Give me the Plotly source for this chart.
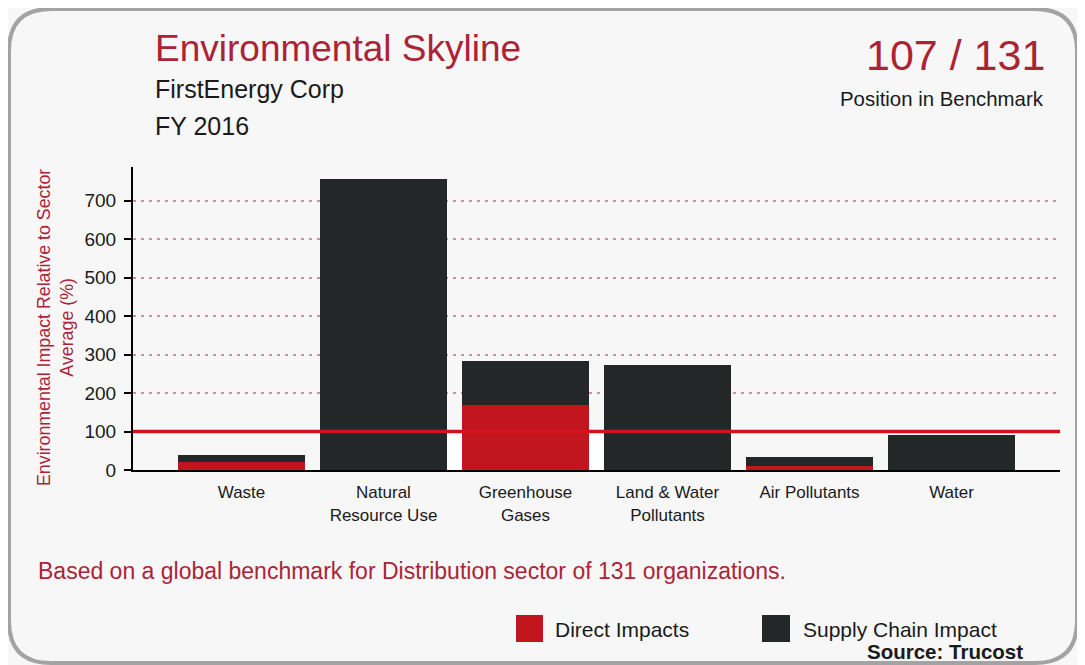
import plotly.graph_objects as go

# ---- data ----
categories = ["Waste", "Natural<br>Resource Use", "Greenhouse<br>Gases",
              "Land & Water<br>Pollutants", "Air Pollutants", "Water"]
direct_impacts = [22, 0, 169, 0, 10, 0]
supply_chain = [17, 756, 115, 273, 23, 91]
y_ticks = [0, 100, 200, 300, 400, 500, 600, 700]
sector_average = 100

RED = "#c1161e"
DARK = "#242727"
TITLE_RED = "#ab2436"
LINE_RED = "#d3121c"
BG = "#f7f7f7"
FONT = "Liberation Sans, Arial, sans-serif"

PAGE_W, PAGE_H = 1085, 665
OFF = 8                       # default body margin of the html page
W, H = PAGE_W - OFF, PAGE_H - OFF
L, R, T, B = 133, 1060, 167, 470   # plot area in page pixels


def px(xp):
    return (xp - L) / (R - L)


def py(yp):
    return (B - yp) / (B - T)


fig = go.Figure()
fig.add_trace(go.Bar(x=categories, y=direct_impacts, name="Direct Impacts",
                     marker=dict(color=RED, line=dict(width=0))))
fig.add_trace(go.Bar(x=categories, y=supply_chain, name="Supply Chain Impact",
                     marker=dict(color=DARK, line=dict(width=0))))

shapes = []
# white gaps beside greenhouse bar (scan artifact)
bw = 0.9
for i in (1, 2):
    shapes.append(dict(type="rect", xref="x", yref="y", x0=i + bw / 2, x1=i + 1 - bw / 2,
                       y0=0, y1=88, fillcolor="white", line=dict(width=0), layer="above"))
# sector average line
shapes.append(dict(type="line", xref="paper", yref="y", x0=0, x1=1,
                   y0=sector_average, y1=sector_average,
                   line=dict(color=LINE_RED, width=3.5), layer="above"))

# rounded card border
x0, y0, x1, y1, r = 9, 9, 1077, 663, 42
path = (f"M {px(x0 + r)},{py(y0)} L {px(x1 - r)},{py(y0)} "
        f"Q {px(x1)},{py(y0)} {px(x1)},{py(y0 + r)} "
        f"L {px(x1)},{py(y1 - r)} Q {px(x1)},{py(y1)} {px(x1 - r)},{py(y1)} "
        f"L {px(x0 + r)},{py(y1)} Q {px(x0)},{py(y1)} {px(x0)},{py(y1 - r)} "
        f"L {px(x0)},{py(y0 + r)} Q {px(x0)},{py(y0)} {px(x0 + r)},{py(y0)} Z")
shapes.append(dict(type="path", xref="paper", yref="paper", path=path,
                   line=dict(color="#a3a3a3", width=4), layer="below"))

# legend swatches
shapes.append(dict(type="rect", xref="paper", yref="paper", x0=px(516), x1=px(543),
                   y0=py(642), y1=py(615), fillcolor=RED, line=dict(width=0)))
shapes.append(dict(type="rect", xref="paper", yref="paper", x0=px(762), x1=px(790),
                   y0=py(642), y1=py(615), fillcolor=DARK, line=dict(width=0)))

ann = []


def add(text, x, y, size, color="#1a1a1a", xanchor="left", **kw):
    ann.append(dict(text=text, xref="paper", yref="paper", x=px(x), y=py(y),
                    xanchor=xanchor, yanchor="middle", showarrow=False,
                    font=dict(size=size, color=color, family=FONT), **kw))


add("Environmental Skyline", 153, 48, 37, TITLE_RED)
add("FirstEnergy Corp", 153, 89, 25)
add("FY 2016", 153, 126, 25)
add("107 / 131", 1047, 55, 43, TITLE_RED, xanchor="right")
add("Position in Benchmark", 1046, 99, 20.4, xanchor="right")
add("Based on a global benchmark for Distribution sector of 131 organizations.",
    36, 571, 23, TITLE_RED)
add("Direct Impacts", 553, 629, 21)
add("Supply Chain Impact", 801, 629, 21)
add("<b>Source: Trucost</b>", 1025, 651, 20.5, xanchor="right")
add("Environmental Impact Relative to Sector<br>Average (%)", 55, 328, 17.8,
    TITLE_RED, xanchor="center", textangle=-90)

fig.update_layout(
    width=W, height=H,
    margin=dict(l=L - OFF, r=PAGE_W - R, t=T - OFF, b=PAGE_H - B),
    barmode="stack", bargap=0.1,
    paper_bgcolor=BG, plot_bgcolor=BG,
    showlegend=False,
    font=dict(family=FONT, color="#1a1a1a"),
    shapes=shapes, annotations=ann,
    xaxis=dict(range=[-0.764, 5.764], showline=True, linecolor="black", linewidth=2,
               ticks="", tickfont=dict(size=17), showgrid=False, ticklabelstandoff=6),
    yaxis=dict(range=[0, 788], tickvals=y_ticks, showline=True, linecolor="black",
               linewidth=2, ticks="outside", ticklen=7, tickcolor="black", tickwidth=2,
               tickfont=dict(size=19), showgrid=True, gridcolor="#cf909a",
               griddash="3px,5px", gridwidth=1.5, zeroline=False, ticklabelstandoff=4),
)

fig.write_html("out.html")
